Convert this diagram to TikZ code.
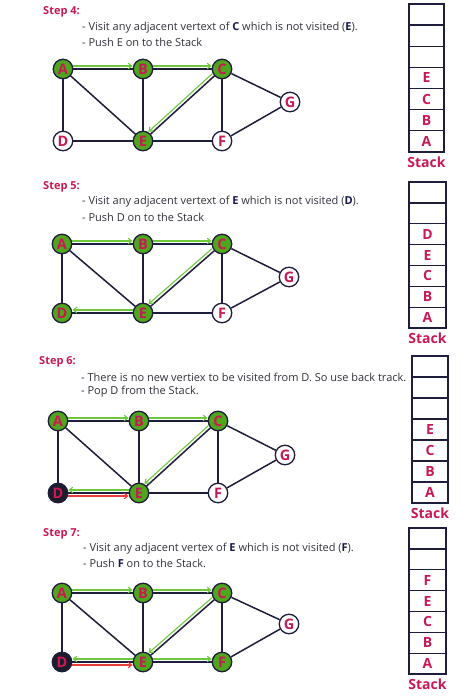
\documentclass[tikz,border=0pt]{standalone}
\usepackage{fontspec}
\setmainfont{Open Sans}
\usetikzlibrary{arrows.meta,calc}
\definecolor{navy}{RGB}{30,30,60}
\definecolor{vgreen}{RGB}{80,165,30}
\definecolor{agreen}{RGB}{110,200,60}
\definecolor{crim}{RGB}{200,25,85}
\definecolor{rarr}{RGB}{235,60,60}
\definecolor{txt}{RGB}{50,50,60}
\definecolor{bnavy}{RGB}{25,25,80}
\definecolor{deadfill}{RGB}{28,28,45}
\newcommand{\stackcol}[6]{%
  \foreach \lab [count=\i] in {#6} {
    \node[cell,minimum width=#5pt,minimum height=#4pt] (#1-\i) at (#2,{#3+(\i-0.5)*#4}) {\lab};
  }
  \node[stk] (#1-lbl) at (#2,{#3+7*#4+10}) {Stack};
}
\newcommand{\graphedges}[1]{%
  \foreach \u/\v in {a/b,b/c,a/d,a/e,b/e,c/e,c/f,c/g,d/e,e/f,f/g}
    \draw[edge] (\u#1) -- (\v#1);
}
\newcommand{\bn}[1]{\textcolor{bnavy}{\textbf{#1}}}
\begin{document}
\begin{tikzpicture}[x=1pt,y=-1pt,
 vx/.style={circle,draw=navy,line width=1.3pt,minimum size=19.5pt,inner sep=0pt,text=crim,font=\fontsize{14.5}{14.5}\selectfont\bfseries},
 vis/.style={vx,fill=vgreen},
 unv/.style={vx,fill=white},
 dead/.style={vx,fill=deadfill},
 edge/.style={draw=navy,line width=1.5pt},
 garrow/.style={draw=agreen,line width=1.1pt,-{Straight Barb[length=3.5pt,width=5.5pt]}},
 rarrow/.style={draw=rarr,line width=1.1pt,-{Straight Barb[length=3.5pt,width=5.5pt]}},
 up/.style={transform canvas={yshift=3pt}},
 down/.style={transform canvas={yshift=-3pt}},
 upleft/.style={transform canvas={xshift=-2.2pt,yshift=2.2pt}},
 steplbl/.style={anchor=west,inner sep=0pt,text=crim,font=\fontsize{11}{13}\selectfont\bfseries},
 desc/.style={anchor=west,inner sep=0pt,text=txt,font=\fontsize{11}{13}\selectfont},
 cell/.style={draw=navy,line width=1.3pt,inner sep=0pt,text=crim,font=\fontsize{14}{14}\selectfont\bfseries},
 stk/.style={text=crim,inner sep=0pt,font=\fontsize{14}{14}\selectfont\bfseries}]
\useasboundingbox[fill=white] (0,0) rectangle (474,698);

% ---------------- Step 4 ----------------
\node[steplbl] (s4) at (43,12) {Step 4:};
\node[desc] (s4a) at (82,28) {- Visit any adjacent vertext of \bn{C} which is not visited (\bn{E}).};
\node[desc] (s4b) at (82,42) {- Push E on to the Stack};
\node[vis] (a4) at (63,69) {A};
\node[vis] (b4) at (143,69) {B};
\node[vis] (c4) at (222,69) {C};
\node[unv] (g4) at (290,102) {G};
\node[unv] (d4) at (63,141) {D};
\node[vis] (e4) at (143,141) {E};
\node[unv] (f4) at (222,141) {F};
\graphedges{4}
\draw[garrow,up] (a4) -- (b4);
\draw[garrow,up] (b4) -- (c4);
\draw[garrow,upleft] (c4) -- (e4);
\stackcol{st4}{426.5}{4}{21.14}{35}{{},{},{},E,C,B,A}

% ---------------- Step 5 ----------------
\node[steplbl] (s5) at (43,187) {Step 5:};
\node[desc] (s5a) at (82,202) {- Visit any adjacent vertext of \bn{E} which is not visited (\bn{D}).};
\node[desc] (s5b) at (82,217) {- Push D on to the Stack};
\node[vis] (a5) at (62,244) {A};
\node[vis] (b5) at (143,244) {B};
\node[vis] (c5) at (222,244) {C};
\node[unv] (g5) at (289,277) {G};
\node[vis] (d5) at (62,313) {D};
\node[vis] (e5) at (143,313) {E};
\node[unv] (f5) at (222,313) {F};
\graphedges{5}
\draw[garrow,up] (a5) -- (b5);
\draw[garrow,up] (b5) -- (c5);
\draw[garrow,upleft] (c5) -- (e5);
\draw[garrow,up] (e5) -- (d5);
\stackcol{st5}{427.5}{182}{20.86}{37}{{},{},D,E,C,B,A}

% ---------------- Step 6 ----------------
\node[steplbl] (s6) at (39,362) {Step 6:};
\node[desc] (s6a) at (81,377) {- There is no new vertiex to be visited from D. So use back track.};
\node[desc] (s6b) at (81,392) {- Pop D from the Stack.};
\node[vis] (a6) at (58,421) {A};
\node[vis] (b6) at (139,421) {B};
\node[vis] (c6) at (218,421) {C};
\node[unv] (g6) at (285,455) {G};
\node[dead] (d6) at (58,493) {D};
\node[vis] (e6) at (139,493) {E};
\node[unv] (f6) at (218,493) {F};
\graphedges{6}
\draw[garrow,up] (a6) -- (b6);
\draw[garrow,up] (b6) -- (c6);
\draw[garrow,upleft] (c6) -- (e6);
\draw[garrow,up] (e6) -- (d6);
\draw[rarrow,down] (d6) -- (e6);
\stackcol{st6}{430}{356}{21}{36}{{},{},{},E,C,B,A}

% ---------------- Step 7 ----------------
\node[steplbl] (s7) at (43,534) {Step 7:};
\node[desc] (s7a) at (83,549) {- Visit any adjacent vertex of \bn{E} which is not visited (\bn{F}).};
\node[desc] (s7b) at (83,563) {- Push \bn{F} on to the Stack.};
\node[vis] (a7) at (62,593) {A};
\node[vis] (b7) at (143,593) {B};
\node[vis] (c7) at (222,593) {C};
\node[unv] (g7) at (289,624) {G};
\node[dead] (d7) at (62,662) {D};
\node[vis] (e7) at (143,662) {E};
\node[vis] (f7) at (222,662) {F};
\graphedges{7}
\draw[garrow,up] (a7) -- (b7);
\draw[garrow,up] (b7) -- (c7);
\draw[garrow,upleft] (c7) -- (e7);
\draw[garrow,up] (e7) -- (d7);
\draw[rarrow,down] (d7) -- (e7);
\draw[garrow,up] (e7) -- (f7);
\stackcol{st7}{427.5}{528}{20.86}{37}{{},{},F,E,C,B,A}
\end{tikzpicture}
\end{document}
